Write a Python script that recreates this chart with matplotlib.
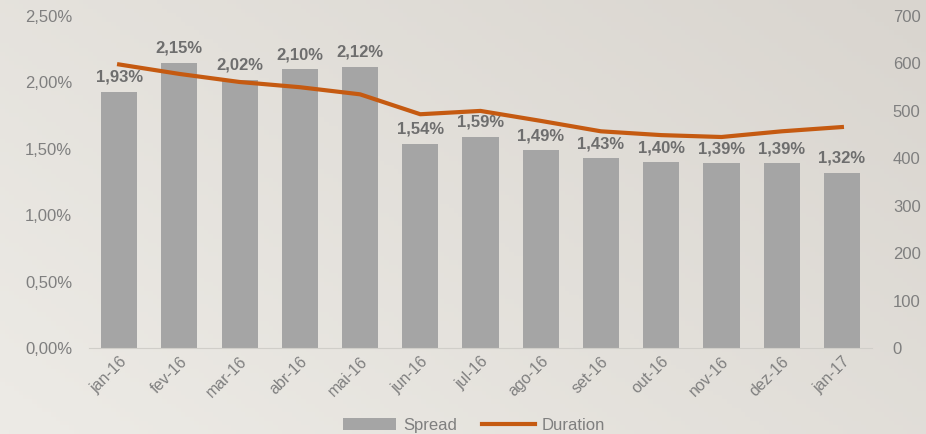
import numpy as np
import matplotlib
matplotlib.use("Agg")
from matplotlib import pyplot as plt
from matplotlib.colors import LinearSegmentedColormap

plt.rcParams["font.family"] = ["Liberation Sans", "DejaVu Sans"]

months = ["jan-16", "fev-16", "mar-16", "abr-16", "mai-16", "jun-16", "jul-16",
          "ago-16", "set-16", "out-16", "nov-16", "dez-16", "jan-17"]
spread = [1.93, 2.15, 2.02, 2.10, 2.12, 1.54, 1.59, 1.49, 1.43, 1.40, 1.39, 1.39, 1.32]
duration = [598, 578, 561, 550, 535, 493, 500, 479, 457, 449, 445, 457, 466]
left_ticks = [0, 0.5, 1.0, 1.5, 2.0, 2.5]
right_ticks = [0, 100, 200, 300, 400, 500, 600, 700]

bar_color = "#A5A5A5"
line_color = "#C55A11"
text_color = "#7F7F7F"
label_color = "#6E6E6E"

fig = plt.figure(figsize=(9.26, 4.34), dpi=100)

# background gradient (lighter bottom-left, darker top-right)
bg = fig.add_axes([0, 0, 1, 1], zorder=-10)
gx, gy = np.meshgrid(np.linspace(0, 1, 200), np.linspace(0, 1, 100))
grad = 0.6 * gx + 0.4 * gy
cmap = LinearSegmentedColormap.from_list("bg", ["#EDEBE6", "#D9D5CF"])
bg.imshow(grad, cmap=cmap, aspect="auto", origin="lower", extent=[0, 1, 0, 1])
bg.axis("off")

ax = fig.add_axes([0.0961, 0.198, 0.8456, 0.765])
ax.patch.set_alpha(0)
x = np.arange(len(months))
ax.bar(x, spread, width=0.6, color=bar_color, label="Spread", zorder=2)
ax.set_xlim(-0.5, len(months) - 0.5)
ax.set_ylim(0, 2.5)
ax.set_yticks(left_ticks)
ax.set_yticklabels([f"{t:.2f}%".replace(".", ",") for t in left_ticks])
ax.set_xticks(x)
ax.set_xticklabels(months, rotation=45, ha="right", rotation_mode="anchor")
for s in ["top", "right", "left"]:
    ax.spines[s].set_visible(False)
ax.spines["bottom"].set_color("#D0CEC9")
ax.tick_params(length=0, colors=text_color, labelsize=12)
ax.tick_params(axis="y", pad=12)
ax.tick_params(axis="x", pad=4, labelsize=11.5)

for xi, v in zip(x, spread):
    ax.annotate(f"{v:.2f}%".replace(".", ","), (xi, v), xytext=(0, 5),
                textcoords="offset points", ha="center", va="bottom",
                fontsize=12, fontweight="bold", color=label_color, zorder=5)

ax2 = ax.twinx()
ax2.plot(x, duration, color=line_color, linewidth=3, label="Duration", zorder=3)
ax2.set_ylim(0, 700)
ax2.set_yticks(right_ticks)
for s in ["top", "right", "left", "bottom"]:
    ax2.spines[s].set_visible(False)
ax2.tick_params(length=0, colors=text_color, labelsize=12, pad=15)

h1, l1 = ax.get_legend_handles_labels()
h2, l2 = ax2.get_legend_handles_labels()
fig.legend(h1 + h2, l1 + l2, loc="center", bbox_to_anchor=(0.512, 0.02),
           ncol=2, frameon=False, fontsize=12, labelcolor=text_color,
           handlelength=3.2, columnspacing=1.5, handletextpad=0.4)

fig.savefig("out.png", dpi=100)
